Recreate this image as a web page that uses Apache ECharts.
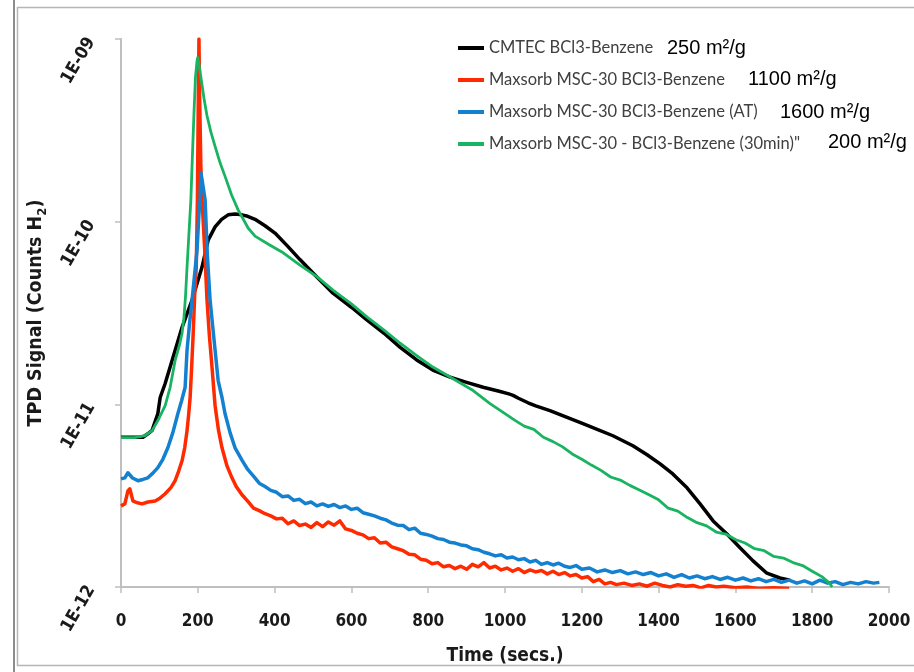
<!DOCTYPE html>
<html>
<head>
<meta charset="utf-8">
<script src="https://cdn.jsdelivr.net/npm/echarts@6/dist/echarts.min.js"></script>
<style>html,body{margin:0;padding:0;background:#fff}#chart{width:914px;height:672px}</style>
</head>
<body>
<div id="chart"></div>
<script>
// ---- Data (time in s, TPD signal in counts H2) ----
const seriesNames = [
  'CMTEC BCl3-Benzene',
  'Maxsorb MSC-30 BCl3-Benzene',
  'Maxsorb MSC-30 BCl3-Benzene (AT)',
  'Maxsorb MSC-30 - BCl3-Benzene (30min)"'
];
const surfaceAreas = ['250 m²/g', '1100 m²/g', '1600 m²/g', '200 m²/g'];
const xTicks = [0, 200, 400, 600, 800, 1000, 1200, 1400, 1600, 1800, 2000];
const yTicks = [1e-12, 1e-11, 1e-10, 1e-9];

const cmtec = [
  [0,6.6e-12],[30,6.6e-12],[57,6.6e-12],[70,6.9e-12],[81,7.2e-12],[96,8.9e-12],[102,1.09e-11],[115,1.3e-11],
  [133,1.74e-11],[159,2.64e-11],[185,3.72e-11],[211,5.64e-11],[227,7.93e-11],[245,9.36e-11],[262,1.03e-10],
  [279,1.09e-10],[297,1.1e-10],[315,1.09e-10],[330,1.07e-10],[349,1.03e-10],[375,9.5e-11],[401,8.66e-11],
  [435,7.3e-11],[466,6.2e-11],[505,5.1e-11],[552,4.06e-11],[600,3.4e-11],[641,2.89e-11],[685,2.45e-11],
  [727,2.05e-11],[770,1.75e-11],[812,1.54e-11],[857,1.41e-11],[900,1.32e-11],[943,1.24e-11],
  [985,1.18e-11],[1010,1.14e-11],[1021,1.12e-11],[1035,1.08e-11],[1060,1.02e-11],[1080,9.8e-12],[1117,9.23e-12],
  [1160,8.5e-12],[1203,7.83e-12],[1240,7.3e-12],[1281,6.73e-12],[1333,5.93e-12],[1370,5.3e-12],[1404,4.72e-12],
  [1437,4.16e-12],[1474,3.49e-12],[1508,2.85e-12],[1542,2.3e-12],[1578,1.95e-12],[1612,1.64e-12],[1646,1.39e-12],
  [1682,1.19e-12],[1716,1.12e-12],[1742,1.09e-12]
];
const maxsorb = [
  [0,2.78e-12],[10,2.85e-12],[18,3.36e-12],[23,3.45e-12],[31,2.96e-12],[40,2.9e-12],[55,2.85e-12],[70,2.92e-12],
  [89,2.96e-12],[100,3.05e-12],[115,3.24e-12],[130,3.5e-12],[141,3.82e-12],[150,4.3e-12],[159,4.91e-12],
  [166,5.8e-12],[172,7.18e-12],[176,8.7e-12],[180,1.09e-11],[184,1.6e-11],[188,2.45e-11],[192,4.0e-11],
  [196,5.64e-11],[199,1.32e-10],[201,4.0e-10],[203,1.0e-9],[205,4.5e-10],[208,2.0e-10],[211,1.32e-10],
  [218,7.0e-11],[224,3.72e-11],[230,2.4e-11],[237,1.6e-11],[245,9.83e-12],[254,7.2e-12],[263,5.78e-12],
  [276,4.6e-12],[289,3.96e-12],
  [300,3.55e-12],[315,3.2e-12],[330,2.95e-12],[345,2.7e-12],[360,2.62e-12],[375,2.52e-12],[390,2.45e-12],
  [405,2.36e-12],[420,2.38e-12],[435,2.22e-12],[450,2.3e-12],[465,2.17e-12],[480,2.21e-12],[495,2.12e-12],
  [510,2.25e-12],[525,2.14e-12],[540,2.27e-12],[555,2.18e-12],[570,2.3e-12],[585,2.08e-12],[600,2.04e-12],
  [615,1.97e-12],[630,1.93e-12],[645,1.84e-12],[660,1.86e-12],[675,1.74e-12],[690,1.76e-12],[705,1.66e-12],
  [720,1.62e-12],[735,1.58e-12],[750,1.51e-12],[765,1.5e-12],[780,1.42e-12],[795,1.4e-12],[810,1.34e-12],
  [825,1.36e-12],[840,1.29e-12],[855,1.31e-12],[870,1.26e-12],[885,1.3e-12],[900,1.25e-12],[915,1.33e-12],
  [930,1.29e-12],[945,1.36e-12],[960,1.27e-12],[975,1.3e-12],[990,1.24e-12],[1005,1.27e-12],[1020,1.22e-12],
  [1035,1.26e-12],[1050,1.2e-12],[1065,1.24e-12],[1080,1.21e-12],[1095,1.23e-12],[1110,1.18e-12],[1125,1.22e-12],
  [1140,1.17e-12],[1155,1.2e-12],[1170,1.15e-12],[1185,1.17e-12],[1200,1.12e-12],[1215,1.14e-12],[1230,1.07e-12],
  [1245,1.1e-12],[1260,1.04e-12],[1275,1.06e-12],[1290,1.03e-12],[1310,1.05e-12],[1330,1.02e-12],[1350,1.04e-12],
  [1370,1.01e-12],[1390,1.05e-12],[1410,1.02e-12],[1430,1.0e-12],[1450,1.03e-12],[1470,1.01e-12],[1490,1.02e-12],
  [1510,0.99e-12],[1530,1.02e-12],[1550,1.0e-12],[1570,1.01e-12],[1600,0.99e-12],[1630,1.0e-12],[1660,0.98e-12],
  [1700,0.99e-12],[1740,0.98e-12]
];
const maxsorbAT = [
  [0,3.91e-12],[10,3.96e-12],[18,4.22e-12],[30,3.95e-12],[44,3.82e-12],[57,3.88e-12],[70,3.96e-12],[83,4.2e-12],
  [96,4.5e-12],[109,5.0e-12],[122,5.78e-12],[135,7.0e-12],[148,8.88e-12],[158,1.05e-11],[167,1.24e-11],
  [172,1.98e-11],[178,2.7e-11],[185,3.72e-11],[192,5.2e-11],[198,7.0e-11],[203,1.1e-10],[206,1.32e-10],
  [208,1.86e-10],[211,1.7e-10],[219,1.32e-10],[225,6.5e-11],[232,3.72e-11],[245,1.98e-11],[253,1.35e-11],
  [263,1.09e-11],[271,8.88e-12],[284,7.0e-12],[297,5.78e-12],
  [315,4.95e-12],[330,4.4e-12],[345,4.05e-12],[360,3.7e-12],[375,3.55e-12],[390,3.38e-12],[405,3.3e-12],
  [420,3.12e-12],[435,3.15e-12],[450,2.98e-12],[465,3.02e-12],[480,2.86e-12],[495,2.92e-12],[510,2.78e-12],
  [525,2.85e-12],[540,2.76e-12],[555,2.83e-12],[570,2.72e-12],[585,2.78e-12],[600,2.66e-12],[615,2.7e-12],
  [630,2.55e-12],[645,2.5e-12],[660,2.45e-12],[675,2.38e-12],[690,2.33e-12],[705,2.24e-12],[720,2.18e-12],
  [735,2.17e-12],[750,2.06e-12],[765,2.1e-12],[780,1.97e-12],[795,1.94e-12],[810,1.9e-12],[825,1.84e-12],
  [840,1.82e-12],[855,1.76e-12],[870,1.74e-12],[885,1.7e-12],[900,1.68e-12],[915,1.62e-12],[930,1.6e-12],
  [945,1.55e-12],[960,1.52e-12],[975,1.48e-12],[990,1.5e-12],[1005,1.44e-12],[1020,1.46e-12],[1035,1.41e-12],
  [1050,1.43e-12],[1065,1.37e-12],[1080,1.4e-12],[1095,1.33e-12],[1110,1.36e-12],[1125,1.32e-12],[1140,1.35e-12],
  [1155,1.3e-12],[1170,1.28e-12],[1185,1.31e-12],[1200,1.25e-12],[1220,1.27e-12],[1240,1.21e-12],[1260,1.24e-12],
  [1280,1.2e-12],[1300,1.23e-12],[1320,1.18e-12],[1340,1.21e-12],[1360,1.17e-12],[1380,1.2e-12],[1400,1.15e-12],
  [1420,1.18e-12],[1440,1.13e-12],[1460,1.17e-12],[1480,1.12e-12],[1500,1.15e-12],[1520,1.11e-12],[1540,1.14e-12],
  [1560,1.1e-12],[1580,1.13e-12],[1600,1.09e-12],[1620,1.12e-12],[1640,1.08e-12],[1660,1.11e-12],[1680,1.07e-12],
  [1700,1.1e-12],[1720,1.06e-12],[1740,1.09e-12],[1760,1.05e-12],[1780,1.08e-12],[1800,1.04e-12],[1820,1.09e-12],
  [1840,1.05e-12],[1860,1.07e-12],[1880,1.03e-12],[1900,1.06e-12],[1920,1.04e-12],[1940,1.07e-12],[1960,1.05e-12],
  [1975,1.06e-12]
];
const maxsorb30 = [
  [0,6.57e-12],[36,6.57e-12],[62,6.73e-12],[81,7.18e-12],[96,8.15e-12],[115,9.83e-12],[128,1.24e-11],
  [141,1.74e-11],[152,2.1e-11],[159,2.45e-11],[164,3.0e-11],[168,3.9e-11],[172,5.64e-11],[177,8.66e-11],
  [182,1.32e-10],[186,2.3e-10],[190,3.9e-10],[194,6.2e-10],[198,7.6e-10],[200,7.93e-10],[203,7.3e-10],
  [207,6.4e-10],[211,5.6e-10],[217,4.6e-10],[224,3.8e-10],[234,3.1e-10],[245,2.58e-10],[258,2.1e-10],
  [271,1.77e-10],[288,1.4e-10],[305,1.16e-10],[331,9.23e-11],[349,8.33e-11],[385,7.5e-11],[419,6.83e-11],
  [466,5.78e-11],[510,5.0e-11],[552,4.22e-11],[600,3.55e-11],[641,3.0e-11],[685,2.55e-11],
  [727,2.16e-11],[770,1.85e-11],[812,1.6e-11],[857,1.41e-11],[917,1.19e-11],[961,1.01e-11],
  [1000,8.9e-12],[1025,8.2e-12],[1050,7.6e-12],[1075,7.3e-12],[1100,6.6e-12],[1125,6.25e-12],[1150,5.85e-12],
  [1175,5.35e-12],[1200,5.0e-12],[1225,4.65e-12],[1250,4.35e-12],[1275,4.0e-12],[1300,3.85e-12],[1325,3.6e-12],
  [1350,3.4e-12],[1375,3.2e-12],[1400,3.0e-12],[1425,2.7e-12],[1450,2.6e-12],[1475,2.4e-12],[1500,2.25e-12],
  [1525,2.16e-12],[1550,2.0e-12],[1575,1.95e-12],[1600,1.82e-12],[1625,1.74e-12],[1650,1.62e-12],[1675,1.58e-12],
  [1700,1.47e-12],[1725,1.44e-12],[1750,1.36e-12],[1775,1.31e-12],[1800,1.22e-12],[1825,1.14e-12],[1845,1.05e-12],
  [1852,1.0e-12]
];

const colors = ['#000000', '#ff2a00', '#1480d0', '#19b461'];
const seriesData = [cmtec, maxsorb, maxsorbAT, maxsorb30];
const widths = [3.5, 3.5, 3.5, 2.8];

const tickFont = "'Liberation Sans Narrow', 'DejaVu Sans Condensed', sans-serif";
const areaFont = '20px "Liberation Sans", Arial, sans-serif';
const chart = echarts.init(document.getElementById('chart'));
chart.setOption({
  animation: false,
  backgroundColor: '#ffffff',
  grid: { left: 121, right: 25, top: 39, bottom: 85, containLabel: false },
  legend: {
    orient: 'vertical', left: 453, top: 34,
    icon: 'rect', itemWidth: 26, itemHeight: 4, itemGap: 14,
    data: seriesNames,
    textStyle: { fontFamily: 'Lato', fontSize: 16.5, color: '#404040', lineHeight: 18 }
  },
  xAxis: {
    type: 'value', min: xTicks[0], max: xTicks[xTicks.length - 1], interval: 200,
    name: 'Time (secs.)', nameLocation: 'middle', nameGap: 60,
    nameTextStyle: { fontFamily: tickFont, fontWeight: 'bold', fontSize: 19, color: '#1a1a1a' },
    axisLine: { lineStyle: { color: '#bfbfbf', width: 2 } },
    axisTick: { show: true, length: 6, lineStyle: { color: '#bfbfbf', width: 1.5 } },
    axisLabel: {
      margin: 26, fontFamily: tickFont, fontWeight: 'bold', fontSize: 17, color: '#1a1a1a',
      formatter: function (v) { return String(v); }
    },
    splitLine: { show: false }
  },
  yAxis: {
    type: 'log', logBase: 10, min: yTicks[0], max: yTicks[yTicks.length - 1],
    name: '{a|TPD Signal (Counts H}{b|2}{a|)}', nameLocation: 'middle', nameGap: 71,
    nameTextStyle: {
      rich: {
        a: { fontFamily: tickFont, fontWeight: 'bold', fontSize: 19.5, color: '#1a1a1a', lineHeight: 22, verticalAlign: 'bottom' },
        b: { fontFamily: tickFont, fontWeight: 'bold', fontSize: 13, color: '#1a1a1a', lineHeight: 22, verticalAlign: 'bottom', padding: [0, 0, -3, 0] }
      }
    },
    axisLine: { show: true, lineStyle: { color: '#bfbfbf', width: 2 } },
    axisTick: { show: true, length: 6, lineStyle: { color: '#bfbfbf', width: 1.5 } },
    minorTick: { show: false },
    axisLabel: {
      rotate: 60, margin: 30, fontFamily: tickFont, fontWeight: 'bold', fontSize: 17.5, color: '#1a1a1a',
      formatter: function (v) {
        const e = Math.round(Math.log10(v));
        return '1E-' + String(-e).padStart(2, '0');
      }
    },
    splitLine: { show: false }
  },
  series: seriesNames.map(function (n, i) {
    return {
      name: n, type: 'line', data: seriesData[i], showSymbol: false, symbol: 'none',
      smooth: false,
      color: colors[i],
      lineStyle: { color: colors[i], width: widths[i], join: 'round' },
      z: 2 + i
    };
  }),
  graphic: [
    { type: 'line', shape: { x1: 14, y1: 0, x2: 14, y2: 672 }, style: { stroke: '#8c8c8c', lineWidth: 2 }, silent: true },
    { type: 'rect', shape: { x: 17.5, y: 7.5, width: 910, height: 658 }, style: { fill: null, stroke: '#b5b5b5', lineWidth: 1.5 }, silent: true },
    { type: 'text', left: 667, top: 38, style: { text: surfaceAreas[0], font: areaFont, fill: '#000' } },
    { type: 'text', left: 748, top: 69, style: { text: surfaceAreas[1], font: areaFont, fill: '#000' } },
    { type: 'text', left: 780, top: 102, style: { text: surfaceAreas[2], font: areaFont, fill: '#000' } },
    { type: 'text', left: 828, top: 132, style: { text: surfaceAreas[3], font: areaFont, fill: '#000' } }
  ]
});
</script>
</body>
</html>
